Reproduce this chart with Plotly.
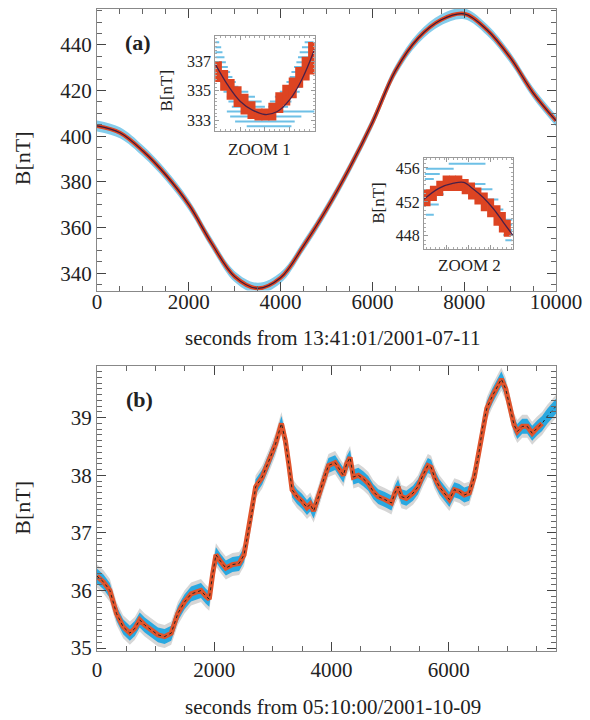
import plotly.graph_objects as go

# panel (a) - B field, seconds from 13:41:01/2001-07-11
t_a = [0, 500, 1000, 1500, 2000, 2500, 3000, 3500, 4000, 4500, 5000,
       5500, 6000, 6500, 7000, 7500, 8000, 8500, 9000, 9500, 10000]
b_a = [404.5, 401.5, 393.5, 383.0, 370.0, 353.0, 338.5, 333.4, 338.0, 352.0, 368.0,
       386.0, 406.0, 428.6, 443.0, 451.0, 453.6, 446.5, 434.5, 419.0, 406.8]
a_spread = 2.4
a_ticks = [0, 2000, 4000, 6000, 8000, 10000]

# ZOOM 1 (minimum)
z1_t = [3027, 3090, 3155, 3225, 3295, 3365, 3435, 3505, 3575, 3645, 3715, 3780, 3845, 3910, 3975]
z1_b = [336.3, 335.7, 335.1, 334.6, 334.1, 333.7, 333.4, 333.4, 333.6, 334.2, 334.7, 335.2, 335.9, 336.5, 337.2]
z1_h = [0.7, 0.7, 0.7, 0.7, 0.7, 0.6, 0.4, 0.4, 0.6, 0.7, 0.7, 0.7, 0.7, 0.8, 1.1]
z1_fit_t = [3000, 3125, 3250, 3375, 3500, 3625, 3750, 3875, 4000]
z1_fit_b = [336.8, 335.4, 334.3, 333.7, 333.4, 333.6, 334.4, 335.8, 337.8]
z1_lvl = [338.27, 337.93, 337.6, 337.27, 336.93, 336.6, 336.27, 335.93, 335.6,
          335.27, 334.93, 334.6, 334.27, 333.93, 333.6, 333.27, 332.93, 332.6]
z1_l0 = [3000, 3000, 3000, 3000, 3000, 3000, 3017, 3033, 3050, 3067, 3083, 3117, 3133, 3167, 3117, 3150, 3200, 3317]
z1_l1 = [3040, 3060, 3073, 3093, 3107, 3127, 3150, 3173, 3207, 3233, 3333, 3400, 3467, 3500, 4000, 3867, 3800, 3767]
z1_r0 = [3900, 3873, 3850, 3833, 3817, 3793, 3767, 3750, 3717, 3683, 3650, 3600, 3550, 3533]
z1_r1 = [3990, 3990, 3983, 3973, 3950, 3933, 3917, 3900, 3883, 3873, 3850, 3817, 3767, 3733]

# ZOOM 2 (maximum)
z2_t = [7432, 7496, 7560, 7624, 7688, 7752, 7816, 7880, 7944, 8008, 8072, 8136, 8190, 8240]
z2_b = [452.5, 453.0, 453.6, 454.2, 454.2, 454.2, 453.8, 453.3, 452.7, 452.0, 451.3, 450.4, 449.6, 448.9]
z2_h = [1.0, 0.9, 0.9, 0.9, 0.9, 0.9, 0.9, 1.0, 1.0, 1.1, 1.1, 1.2, 1.2, 1.0]
z2_fit_t = [7400, 7550, 7700, 7800, 7900, 8000, 8100, 8200, 8300]
z2_fit_b = [452.3, 453.6, 454.2, 454.3, 453.5, 452.5, 451.2, 449.6, 448.0]
z2_lvl = [456.5, 455.9, 455.3, 454.7, 454.1, 453.5, 452.9, 452.3, 451.7, 451.1, 450.5, 449.9, 449.3, 448.7, 448.1, 447.5]
z2_x0 = [7650, 7420, 7410, 7410, 7860, 7930, 7420, 7990, 7420, 8050, 7420, 8110, 8150, 8180, 8200, 8220]
z2_x1 = [8020, 7700, 7560, 7500, 8020, 8090, 7600, 8150, 7550, 8200, 7500, 8290, 8290, 8290, 8290, 8290]

# panel (b) - B field, seconds from 05:10:00/2001-10-09
t_b = [0, 110, 220, 333, 446, 560, 644, 729, 814, 927, 1040, 1153, 1266, 1379, 1492,
       1605, 1689, 1774, 1858, 1915, 1972, 2029, 2113, 2198, 2311, 2424, 2508, 2565,
       2650, 2706, 2819, 2932, 3045, 3146, 3214, 3271, 3328, 3412, 3497, 3582, 3638,
       3695, 3780, 3864, 3949, 4062, 4147, 4203, 4259, 4317, 4373, 4458, 4542, 4627,
       4712, 4797, 4910, 5023, 5080, 5136, 5192, 5277, 5390, 5475, 5559, 5644, 5700,
       5756, 5841, 5926, 6011, 6096, 6181, 6266, 6350, 6436, 6520, 6576, 6650, 6746,
       6830, 6898, 6972, 7056, 7113, 7170, 7254, 7339, 7424, 7508, 7593, 7678, 7830]
b_b = [36.25, 36.15, 36.0, 35.6, 35.37, 35.26, 35.34, 35.49, 35.4, 35.32, 35.23, 35.2, 35.26, 35.6, 35.8,
       35.94, 35.97, 36.0, 35.9, 35.85, 36.28, 36.62, 36.5, 36.39, 36.45, 36.47, 36.62, 36.93,
       37.4, 37.8, 37.97, 38.25, 38.54, 38.9, 38.6, 38.2, 37.75, 37.63, 37.55, 37.44, 37.5,
       37.38, 37.63, 37.92, 38.17, 38.22, 38.1, 38.0, 38.2, 38.31, 37.97, 38.0, 37.94, 37.86,
       37.72, 37.63, 37.58, 37.52, 37.69, 37.8, 37.63, 37.6, 37.69, 37.8, 38.0, 38.17, 38.14,
       37.97, 37.8, 37.69, 37.58, 37.75, 37.72, 37.66, 37.69, 37.97, 38.42, 38.82, 39.16, 39.38,
       39.55, 39.67, 39.5, 39.16, 38.88, 38.76, 38.85, 38.85, 38.73, 38.82, 38.9, 39.02, 39.2]
b_spread_blue = 0.13
b_spread_black = 0.2
t_red_end = 7620

FONT = "Liberation Serif"
RED = "#dd4422"
W, H = 590, 720
L, R, T, B = 97, 31, 8, 69


def px(x):
    return (x - L) / (W - L - R)


def py(y):
    return (H - B - y) / (H - T - B)


fig = go.Figure()

# ---- panel (a)
fig.add_trace(go.Scatter(x=t_a, y=[v - a_spread for v in b_a], mode="lines",
                         line=dict(width=0, shape="spline"), hoverinfo="skip", showlegend=False))
fig.add_trace(go.Scatter(x=t_a, y=[v + a_spread for v in b_a], mode="lines", fill="tonexty",
                         fillcolor="rgba(110,195,232,0.85)", line=dict(width=0, shape="spline"),
                         hoverinfo="skip", showlegend=False))
fig.add_trace(go.Scatter(x=t_a, y=b_a, mode="lines", line=dict(color=RED, width=4, shape="spline"),
                         showlegend=False))
fig.add_trace(go.Scatter(x=t_a, y=b_a, mode="lines", line=dict(color="#3c1a3a", width=1.2, shape="spline"),
                         showlegend=False))

# ---- panel (b)
for sp, col in [(b_spread_black, "rgba(30,30,30,0.18)"), (b_spread_blue, "#2aa8e0")]:
    fig.add_trace(go.Scatter(x=t_b, y=[v - sp for v in b_b], mode="lines", line=dict(width=0),
                             xaxis="x2", yaxis="y2", hoverinfo="skip", showlegend=False))
    fig.add_trace(go.Scatter(x=t_b, y=[v + sp for v in b_b], mode="lines", fill="tonexty",
                             fillcolor=col, line=dict(width=0), xaxis="x2", yaxis="y2",
                             hoverinfo="skip", showlegend=False))
t_r = [t for t in t_b if t <= t_red_end]
fig.add_trace(go.Scatter(x=t_r, y=b_b[:len(t_r)], mode="lines", line=dict(color="#e0542c", width=5),
                         xaxis="x2", yaxis="y2", showlegend=False))
fig.add_trace(go.Scatter(x=t_b, y=b_b, mode="lines", line=dict(color="#222", width=1, dash="dot"),
                         xaxis="x2", yaxis="y2", showlegend=False))


# ---- insets
def seg(x0, x1, lv):
    xs, ys = [], []
    for a, b, l in zip(x0, x1, lv):
        xs += [a, b, None]
        ys += [l, l, None]
    return xs, ys


sx, sy = seg(z1_l0 + z1_r0, z1_l1 + z1_r1, z1_lvl + z1_lvl[:len(z1_r0)])
fig.add_trace(go.Scatter(x=sx, y=sy, mode="lines", line=dict(color="#6ec0e6", width=2),
                         xaxis="x3", yaxis="y3", showlegend=False))
fig.add_trace(go.Scatter(x=z1_t, y=z1_b, mode="markers", marker=dict(size=1, color=RED),
                         error_y=dict(type="data", array=z1_h, color=RED, thickness=8, width=0),
                         xaxis="x3", yaxis="y3", showlegend=False))
fig.add_trace(go.Scatter(x=z1_fit_t, y=z1_fit_b, mode="lines", line=dict(color="#4a2048", width=1.3, shape="spline"),
                         xaxis="x3", yaxis="y3", showlegend=False))

sx, sy = seg(z2_x0, z2_x1, z2_lvl)
fig.add_trace(go.Scatter(x=sx, y=sy, mode="lines", line=dict(color="#6ec0e6", width=2),
                         xaxis="x4", yaxis="y4", showlegend=False))
fig.add_trace(go.Scatter(x=z2_t, y=z2_b, mode="markers", marker=dict(size=1, color=RED),
                         error_y=dict(type="data", array=z2_h, color=RED, thickness=7, width=0),
                         xaxis="x4", yaxis="y4", showlegend=False))
fig.add_trace(go.Scatter(x=z2_fit_t, y=z2_fit_b, mode="lines", line=dict(color="#4a2048", width=1.3, shape="spline"),
                         xaxis="x4", yaxis="y4", showlegend=False))

axfont = dict(family=FONT, size=21, color="#222")
common = dict(showline=True, linecolor="#888", linewidth=1, mirror="allticks", ticks="inside",
              ticklen=9, tickcolor="#444", showgrid=False, zeroline=False, tickfont=axfont)

fig.update_layout(
    width=W, height=H, margin=dict(l=L, r=R, t=T, b=B),
    paper_bgcolor="white", plot_bgcolor="white", showlegend=False,
    xaxis=dict(domain=[0, 1], anchor="y", range=[0, 10000], tickvals=a_ticks,
               ticktext=[str(v) for v in a_ticks],
               minor=dict(dtick=500, ticklen=5, ticks="inside", tickcolor="#666"), **common,
               ticklabelstandoff=-8),
    yaxis=dict(domain=[py(290), 1], anchor="x", range=[332.4, 455.7], tickvals=[340, 360, 380, 400, 420, 440],
               minor=dict(dtick=5, ticklen=5, ticks="inside", tickcolor="#666"), **common),
    xaxis2=dict(domain=[0, 1], anchor="y2", range=[0, 7830], tickvals=[0, 2000, 4000, 6000],
                minor=dict(dtick=500, ticklen=5, ticks="inside", tickcolor="#666"), **common,
                ticklabelstandoff=0),
    yaxis2=dict(domain=[0, py(366)], anchor="x2", range=[34.95, 39.89], tickvals=[35, 36, 37, 38, 39],
                minor=dict(dtick=0.1, ticklen=5, ticks="inside", tickcolor="#666"), **common),
    xaxis3=dict(domain=[px(216), px(316)], anchor="y3", range=[3000, 4000], showticklabels=False,
                showline=True, linecolor="#999", mirror="allticks", ticks="inside", ticklen=4,
                tickvals=[3000, 3250, 3500, 3750, 4000], tickcolor="#999",
                minor=dict(dtick=50, ticklen=2, ticks="inside", tickcolor="#aaa"),
                showgrid=False, zeroline=False),
    yaxis3=dict(domain=[py(130), py(35)], anchor="x3", range=[332.3, 338.7], tickvals=[333, 335, 337],
                showline=True, linecolor="#999", mirror="allticks", ticks="inside", ticklen=4, tickcolor="#999",
                minor=dict(dtick=0.25, ticklen=2, ticks="inside", tickcolor="#aaa"),
                showgrid=False, zeroline=False, tickfont=dict(family=FONT, size=16, color="#222")),
    xaxis4=dict(domain=[px(426), px(516)], anchor="y4", range=[7400, 8300], showticklabels=False,
                showline=True, linecolor="#999", mirror="allticks", ticks="inside", ticklen=4,
                tickvals=[7400, 7625, 7850, 8075, 8300], tickcolor="#999",
                minor=dict(dtick=45, ticklen=2, ticks="inside", tickcolor="#aaa"),
                showgrid=False, zeroline=False),
    yaxis4=dict(domain=[py(248), py(157)], anchor="x4", range=[446.5, 457.2], tickvals=[448, 452, 456],
                showline=True, linecolor="#999", mirror="allticks", ticks="inside", ticklen=4, tickcolor="#999",
                minor=dict(dtick=0.5, ticklen=2, ticks="inside", tickcolor="#aaa"),
                showgrid=False, zeroline=False, tickfont=dict(family=FONT, size=16, color="#222")),
)

notes = [
    ("<b>(a)</b>", 138, 42, 22, 0),
    ("<b>(b)</b>", 140, 399, 22, 0),
    ("B[nT]", 22, 157, 22, -90),
    ("B[nT]", 22, 507, 22, -90),
    ("seconds from 13:41:01/2001-07-11", 335, 338, 21, 0),
    ("seconds from 05:10:00/2001-10-09", 335, 707, 21, 0),
    ("ZOOM 1", 261, 149, 17, 0),
    ("ZOOM 2", 472, 265, 17, 0),
    ("B[nT]", 167, 90, 17, -90),
    ("B[nT]", 381, 202, 17, -90),
]
for txt, x, y, s, ang in notes:
    fig.add_annotation(text=txt, x=px(x), y=py(y), xref="paper", yref="paper", showarrow=False,
                       xanchor="center", yanchor="middle", textangle=ang,
                       font=dict(family=FONT, size=s, color="#222"))

# the page wrapper adds an 8px body margin; drop it so the figure sits at 0,0
fig.write_html("out.html", config={"displayModeBar": False},
               post_script="document.body.style.margin='0';document.body.style.overflow='hidden';")
